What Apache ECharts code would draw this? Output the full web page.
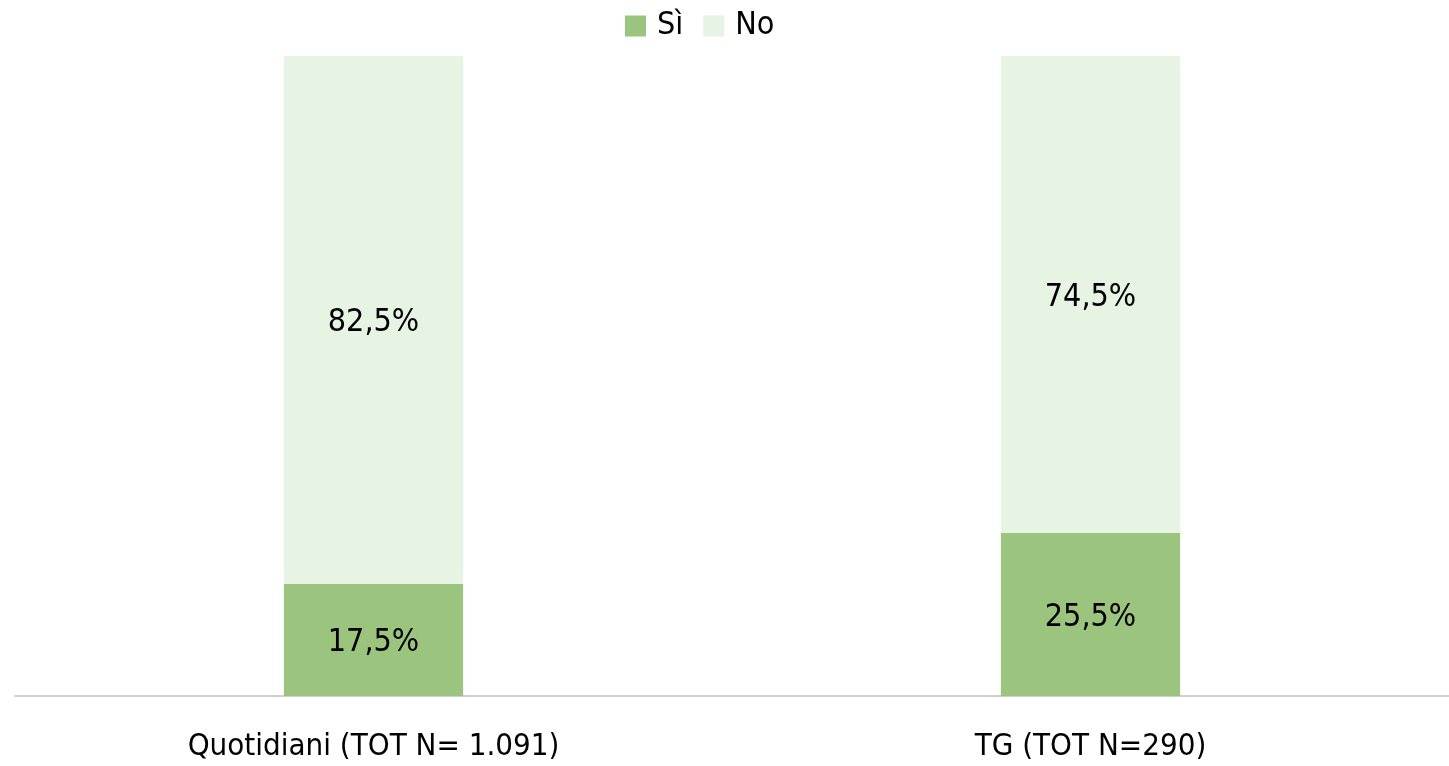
<!DOCTYPE html>
<html lang="it">
<head>
    <meta charset="UTF-8">
    <title>Sì / No</title>
    <script src="https://cdn.jsdelivr.net/npm/echarts@6/dist/echarts.min.js"></script>
    <style>
        html, body { margin: 0; padding: 0; background: #fff; }
        #chart { width: 1449px; height: 766px; }
    </style>
</head>
<body>
<div id="chart"></div>
<script>
    var categories = ['Quotidiani (TOT N= 1.091)', 'TG (TOT N=290)'];
    var siValues = [17.5, 25.5];
    var noValues = [82.5, 74.5];

    var font = '"DejaVu Sans Condensed", "DejaVu Sans", sans-serif';

    function fmt(p) {
        return p.value.toFixed(1).replace('.', ',') + '%';
    }

    var chart = echarts.init(document.getElementById('chart'));
    chart.setOption({
        animation: false,
        textStyle: { fontFamily: font },
        legend: {
            top: 5,
            left: 620,
            itemWidth: 21,
            itemHeight: 21,
            itemGap: 20,
            icon: 'rect',
            textStyle: { fontSize: 32, color: '#000', fontFamily: font, padding: [0, 0, 0, 6] },
            data: ['Sì', 'No']
        },
        grid: { left: 15, right: 0, top: 56, bottom: 70 },
        xAxis: {
            type: 'category',
            data: categories,
            axisLine: { lineStyle: { color: '#d0d0d0', width: 2 } },
            axisTick: { show: false },
            axisLabel: { fontSize: 31, color: '#000', margin: 35, fontFamily: font }
        },
        yAxis: {
            type: 'value',
            min: 0,
            max: 100,
            show: false,
            splitLine: { show: false }
        },
        series: [
            {
                name: 'Sì',
                type: 'bar',
                stack: 'tot',
                barWidth: '25%',
                data: siValues,
                itemStyle: { color: '#9bc57f' },
                label: { show: true, position: 'inside', offset: [0, 3], fontSize: 32, color: '#000', formatter: fmt }
            },
            {
                name: 'No',
                type: 'bar',
                stack: 'tot',
                barWidth: '25%',
                data: noValues,
                itemStyle: { color: '#e7f3e3' },
                label: { show: true, position: 'inside', offset: [0, 3], fontSize: 32, color: '#000', formatter: fmt }
            }
        ]
    });
</script>
</body>
</html>
